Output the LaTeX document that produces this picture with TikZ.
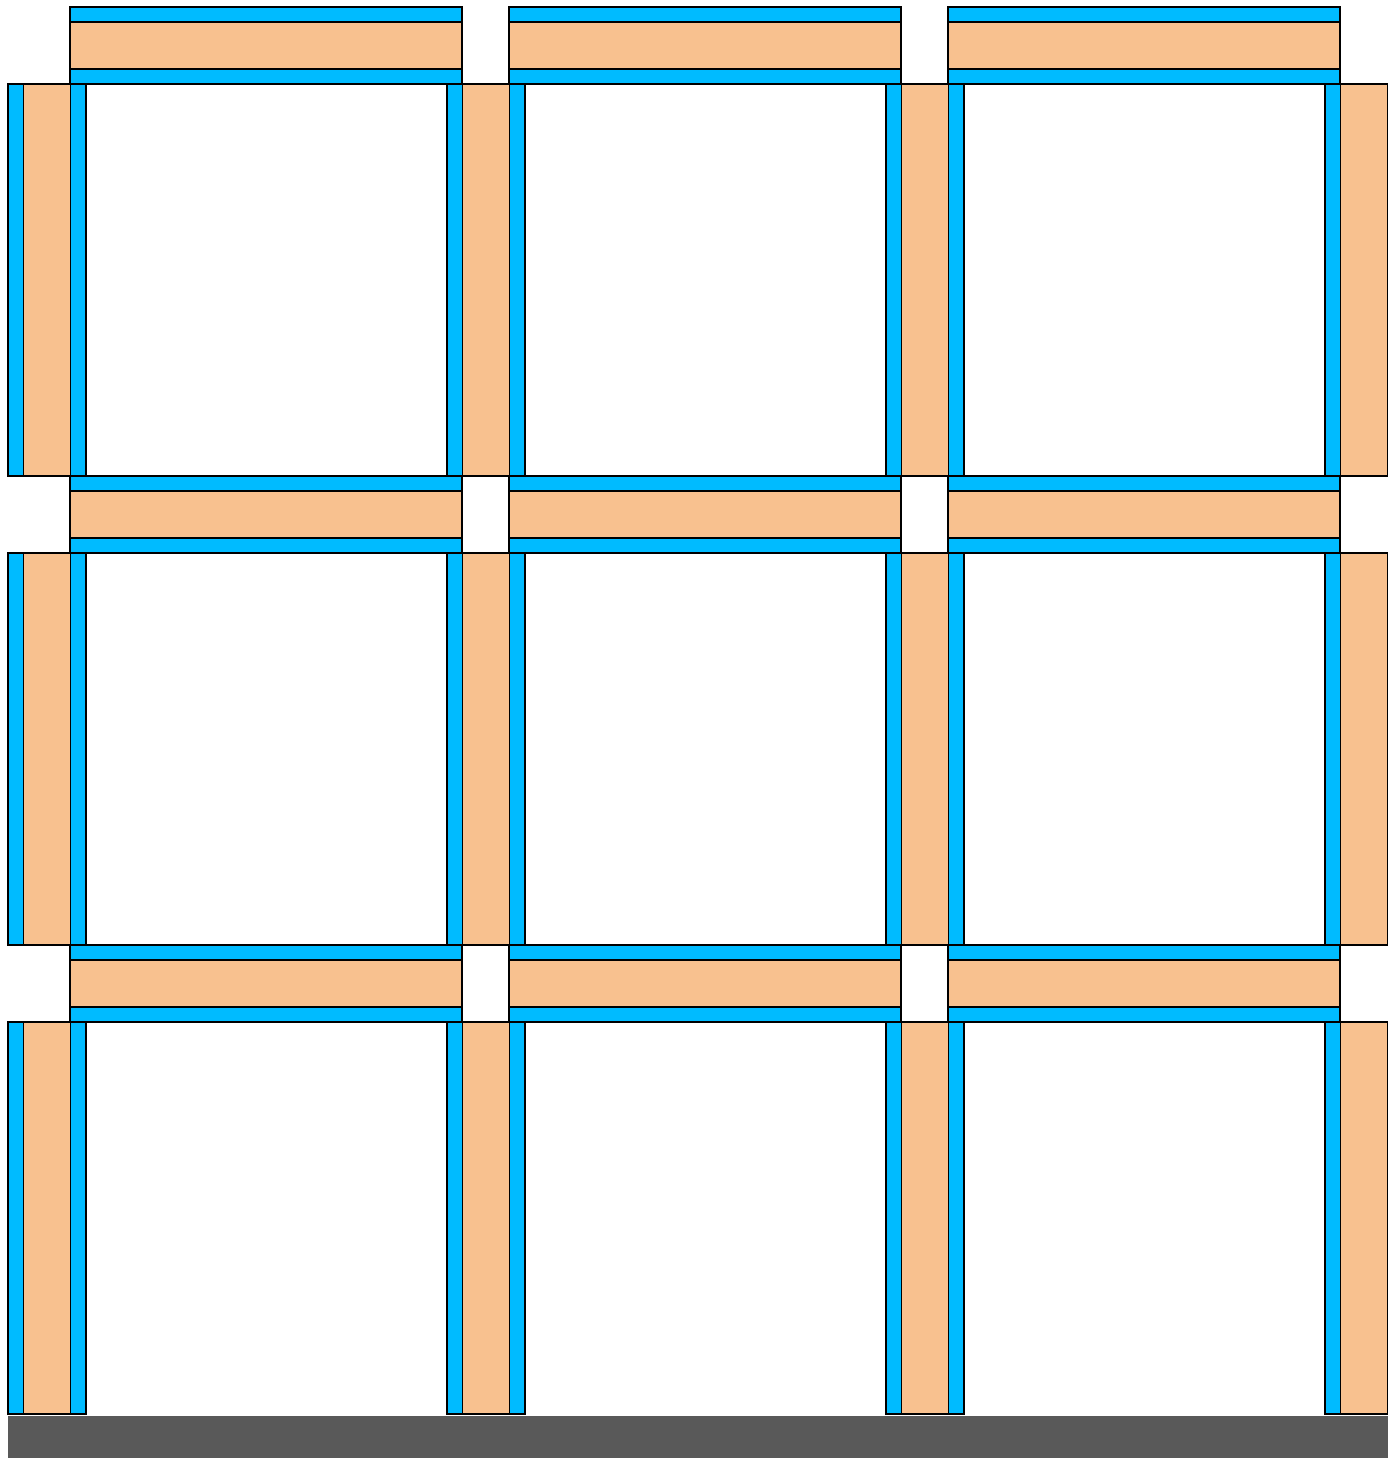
\documentclass[tikz,border=0pt]{standalone}
\usepackage{tikz}
\usepackage{xcolor}

\definecolor{skinblue}{RGB}{0,187,255}
\definecolor{coreorange}{RGB}{248,193,143}
\definecolor{groundgray}{RGB}{89,89,89}

\begin{document}
\begin{tikzpicture}[
  x=0.01cm, y=-0.01cm,
  skin/.style={draw=black, line width=0.45pt, fill=skinblue},
  core/.style={draw=black, line width=0.45pt, fill=coreorange},
  groundbar/.style={fill=groundgray}
]
\useasboundingbox (0,0) rectangle (1388,1458);

\foreach \r in {0,1,2}{
  \pgfmathsetmacro{\ytop}{7+469*\r}
  \pgfmathsetmacro{\ywall}{84+469*\r}
  % floor panels
  \foreach \c in {0,1,2}{
    \pgfmathsetmacro{\xl}{70+439*\c}
    \draw[skin] (\xl,\ytop) rectangle ++(392,15);
    \draw[core] (\xl,\ytop+15) rectangle ++(392,47);
    \draw[skin] (\xl,\ytop+62) rectangle ++(392,15);
  }
  % wall panels
  \foreach \c in {0,1,2,3}{
    \pgfmathsetmacro{\xw}{8+439*\c}
    \draw[skin] (\xw,\ywall) rectangle ++(15.5,392);
    \draw[core] (\xw+15.5,\ywall) rectangle ++(47,392);
    \ifnum\c<3
      \draw[skin] (\xw+62.5,\ywall) rectangle ++(15.5,392);
    \fi
  }
}

% ground
\fill[groundbar] (8,1416) rectangle (1388,1458);

\end{tikzpicture}
\end{document}
